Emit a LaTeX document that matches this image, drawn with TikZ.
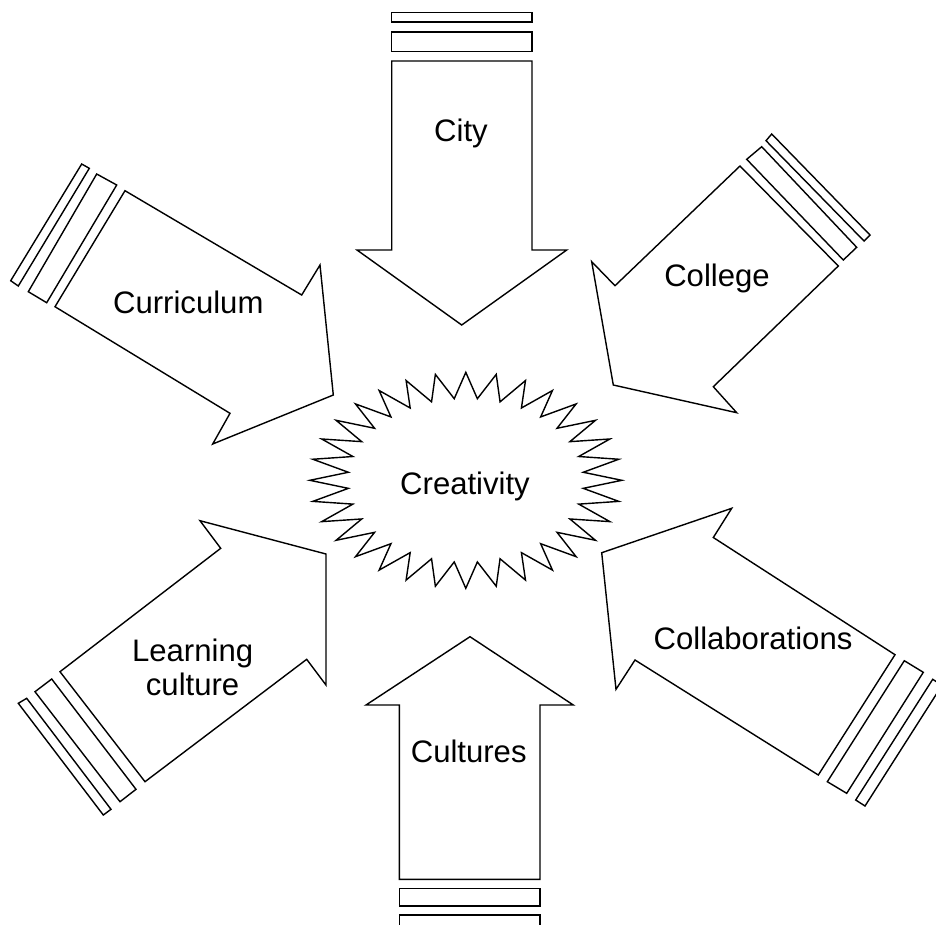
\documentclass[tikz,border=0pt]{standalone}
\usepackage{fontspec}
\setmainfont{Liberation Sans}
\usepackage{tikz}

\begin{document}
\begin{tikzpicture}[x=0.02cm, y=-0.02cm,
        outline/.style={draw, line width=0.8pt},
        lbl/.style={inner sep=0pt, font=\fontsize{17.7}{19.3}\selectfont}]
                \useasboundingbox (0, 0) rectangle (936, 924);
                \clip (0, 0) rectangle (936, 924);

                \node[lbl, anchor=base] (creativity) at (465, 494){Creativity};
                \draw[outline] (465.8, 480.3) ++(156, 0)
                    \foreach \i in {0,...,31}{
                        -- ({465.8+156*cos(\i*11.25)}, {480.3+108*sin(\i*11.25)})
                        -- ({465.8+118*cos(\i*11.25+5.625)}, {480.3+82*sin(\i*11.25+5.625)})
                    } -- cycle;

                \draw[outline] (391.7, 12.7) rectangle (532, 22);
                \draw[outline] (391.7, 32) rectangle (532, 51.7);
                \draw[outline] (391.7, 61) -- (532, 61) -- (532, 250) -- (566.7, 250) -- (461.7, 325) -- (357, 250) -- (391.7, 250) -- cycle;
                \node[lbl, anchor=base] (city) at (461, 141.5){City};

                \draw[outline] (766, 140.7) -- (771.7, 134) -- (870, 235) -- (864, 241) -- cycle;
                \draw[outline] (746.7, 159.3) -- (761.7, 146.7) -- (856.7, 247.3) -- (843.3, 260) -- cycle;
                \draw[outline] (740, 166) -- (838.3, 266) -- (713.3, 386.7) -- (736.7, 412.7) -- (613.3, 385) -- (591.7, 261.7) -- (615, 285.7) -- cycle;
                \node[lbl, anchor=base] (college) at (717, 286.7){College};

                \draw[outline] (932.7, 679.3) -- (942, 685.3) -- (865, 806) -- (855.7, 800) -- cycle;
                \draw[outline] (904.3, 660.7) -- (923.3, 672.3) -- (846.7, 793.3) -- (827.3, 781.7) -- cycle;
                \draw[outline] (895, 654.7) -- (713.3, 537.5) -- (731.7, 508.3) -- (601.7, 552.7) -- (616, 689.3) -- (635, 660) -- (818.3, 775) -- cycle;
                \node[lbl, anchor=base] (collab) at (753, 649.3){Collaborations};

                \draw[outline] (399.3, 888.3) rectangle (540, 906);
                \draw[outline] (399.3, 915) rectangle (540, 926);
                \draw[outline] (399.3, 879.3) -- (399.3, 705) -- (366, 705) -- (470, 636.7) -- (573.3, 705) -- (540, 705) -- (540, 879.3) -- cycle;
                \node[lbl, anchor=base] (cultures) at (468.7, 762.7){Cultures};

                \draw[outline] (26.7, 698.3) -- (111, 809.3) -- (103.3, 815) -- (18.3, 703.3) -- cycle;
                \draw[outline] (51.7, 679) -- (136, 789.3) -- (120, 801.7) -- (35, 691.7) -- cycle;
                \draw[outline] (60, 671.7) -- (220.7, 548.3) -- (200, 520.7) -- (326, 554) -- (326, 685) -- (306.7, 659.3) -- (145, 781.7) -- cycle;
                \node[lbl, align=center] (learning) at (192.6, 667.6){Learning\\culture};

                \draw[outline] (81.7, 164) -- (89.3, 168.3) -- (18.3, 286) -- (10.7, 280.7) -- cycle;
                \draw[outline] (96.7, 174) -- (116.7, 185) -- (46.7, 302.7) -- (28.3, 291.7) -- cycle;
                \draw[outline] (125, 190.7) -- (301.7, 295) -- (320, 265) -- (333.3, 395) -- (212.7, 444) -- (230, 413.3) -- (55, 306.7) -- cycle;
                \node[lbl, anchor=base] (curriculum) at (188.3, 313.3){Curriculum};
            \end{tikzpicture}
\end{document}
